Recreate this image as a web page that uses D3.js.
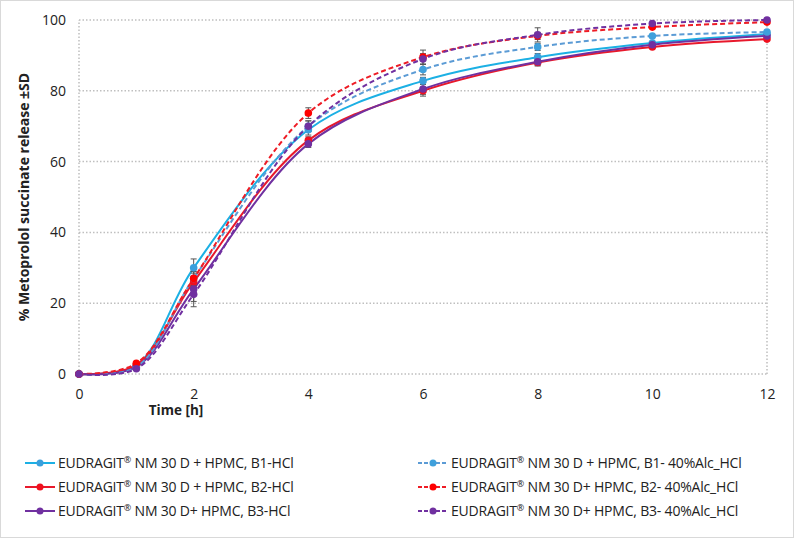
<!DOCTYPE html>
<html>
<head>
<meta charset="utf-8">
<script src="https://cdn.jsdelivr.net/npm/d3@7"></script>
<style>
  body { margin: 0; background: #fff; }
  svg text { font-family: "Open Sans", "Noto Sans", sans-serif; fill: #222; }
</style>
</head>
<body>
<svg id="chart" width="794" height="538"></svg>
<script>
// sampling times (h)
var times = [0, 1, 2, 4, 6, 8, 10, 12];

// mean release values (%) per formulation
var b1Hcl = [0, 2.5, 30, 69, 82.8, 89.5, 93.5, 96];
var b2Hcl = [0, 2.5, 26, 66, 80, 88, 92.4, 94.6];
var b3Hcl = [0, 2, 24, 65, 80.5, 88.2, 93, 95.5];
var b1Alc = [0, 2, 27, 70, 86, 92.4, 95.5, 96.6];
var b2Alc = [0, 3, 27, 73.7, 89.5, 95.5, 98, 99.4];
var b3Alc = [0, 1.5, 22.5, 70, 89, 95.8, 99, 100];

// standard deviations
var b1HclSd = [0, 0.5, 2.5, 1.5, 1, 1, 0.5, 0.5];
var b2HclSd = [0, 0.5, 1.5, 1, 1, 1, 0.5, 0.5];
var b3HclSd = [0, 0.5, 5, 1, 2, 1, 0.5, 0.5];
var b1AlcSd = [0, 0.5, 2, 1.5, 1.5, 1, 0.5, 0.5];
var b2AlcSd = [0, 0.5, 1.5, 1.5, 2, 1, 0.5, 0.5];
var b3AlcSd = [0, 0.5, 2, 1.5, 1.5, 2, 0.5, 0.5];

// legend labels, split around the ® sign
var seriesNames = [
  " NM 30 D + HPMC, B1-HCl",
  " NM 30 D + HPMC, B2-HCl",
  " NM 30 D+ HPMC, B3-HCl",
  " NM 30 D + HPMC, B1- 40%Alc_HCl",
  " NM 30 D+ HPMC, B2- 40%Alc_HCl",
  " NM 30 D+ HPMC, B3- 40%Alc_HCl"
];

var yTicks = [0, 20, 40, 60, 80, 100];
var xTicks = [0, 2, 4, 6, 8, 10, 12];

var series = [
  { name: seriesNames[0], values: b1Hcl, sd: b1HclSd, line: "#1cb0e4", dot: "#3a9fdc", dash: null },
  { name: seriesNames[1], values: b2Hcl, sd: b2HclSd, line: "#e8192c", dot: "#f0101e", dash: null },
  { name: seriesNames[2], values: b3Hcl, sd: b3HclSd, line: "#7030a0", dot: "#7030a0", dash: null },
  { name: seriesNames[3], values: b1Alc, sd: b1AlcSd, line: "#5b9bd5", dot: "#3fa0dc", dash: "5,3" },
  { name: seriesNames[4], values: b2Alc, sd: b2AlcSd, line: "#ee1c25", dot: "#ff0000", dash: "5,3" },
  { name: seriesNames[5], values: b3Alc, sd: b3AlcSd, line: "#7030a0", dot: "#7030a0", dash: "5,3" }
];

var svg = d3.select("svg#chart");

//Outer frame
svg.append("rect")
    .attr("x", 0.5).attr("y", 0.5)
    .attr("width", 793).attr("height", 537)
    .attr("fill", "#fff")
    .attr("stroke", "#d9d9d9");

var x = d3.scaleLinear().domain([0, 12]).range([79, 767]);
var y = d3.scaleLinear().domain([0, 100]).range([374, 20]);

//Horizontal gridlines
svg.append("g").selectAll("line")
  .data(yTicks)
  .enter().append("line")
    .attr("x1", x(0)).attr("x2", x(12))
    .attr("y1", function (d) { return y(d); })
    .attr("y2", function (d) { return y(d); })
    .attr("stroke", "#bfbfbf")
    .attr("stroke-width", 1.5)
    .attr("stroke-dasharray", "1.5,2");

//Vertical frame lines at 0 and 12
svg.append("g").selectAll("line")
  .data([0, 12])
  .enter().append("line")
    .attr("x1", function (d) { return x(d); })
    .attr("x2", function (d) { return x(d); })
    .attr("y1", y(0)).attr("y2", y(100))
    .attr("stroke", "#bfbfbf")
    .attr("stroke-width", 1.5)
    .attr("stroke-dasharray", "1.5,2");

//Axes (labels only, no domain)
var yAxis = svg.append("g")
    .attr("transform", "translate(" + x(0) + ",0)")
    .call(d3.axisLeft(y).tickValues(yTicks).tickSize(0).tickPadding(13));
var xAxis = svg.append("g")
    .attr("transform", "translate(0," + y(0) + ")")
    .call(d3.axisBottom(x).tickValues(xTicks).tickSize(0).tickPadding(15));
[yAxis, xAxis].forEach(function (a) {
  a.select(".domain").remove();
  a.selectAll("text").attr("font-size", 14).attr("fill", "#222")
    .style("font-family", "'Open Sans', sans-serif");
});

//Axis titles
svg.append("text")
    .attr("transform", "translate(29,197) rotate(-90)")
    .attr("text-anchor", "middle")
    .attr("font-size", 14)
    .attr("font-weight", "bold")
    .text("%  Metoprolol succinate release \u00B1SD");

svg.append("text")
    .attr("x", 176).attr("y", 415)
    .attr("text-anchor", "middle")
    .attr("font-size", 13.5)
    .attr("font-weight", "bold")
    .text("Time [h]");

//Smoothed lines
var line = d3.line()
    .x(function (d, i) { return x(times[i]); })
    .y(function (d) { return y(d); })
    .curve(d3.curveCatmullRom.alpha(0.5));

var plot = svg.append("g");

series.forEach(function (s) {
  plot.append("path")
      .datum(s.values)
      .attr("d", line)
      .attr("fill", "none")
      .attr("stroke", s.line)
      .attr("stroke-width", 2)
      .attr("stroke-dasharray", s.dash);
});

//Error bars
series.forEach(function (s) {
  var g = plot.append("g").attr("stroke", "#555").attr("stroke-width", 1);
  s.values.forEach(function (v, i) {
    if (s.sd[i] <= 0.6) return;
    var cx = x(times[i]);
    g.append("line").attr("x1", cx).attr("x2", cx)
      .attr("y1", y(v - s.sd[i])).attr("y2", y(v + s.sd[i]));
    [v - s.sd[i], v + s.sd[i]].forEach(function (e) {
      g.append("line").attr("x1", cx - 3).attr("x2", cx + 3)
        .attr("y1", y(e)).attr("y2", y(e));
    });
  });
});

//Markers
series.forEach(function (s) {
  plot.append("g").selectAll("circle")
    .data(s.values)
    .enter().append("circle")
      .attr("cx", function (d, i) { return x(times[i]); })
      .attr("cy", function (d) { return y(d); })
      .attr("r", 3.8)
      .attr("fill", s.dot);
});

//Legend in two columns
var legend = svg.append("g");
series.forEach(function (s, i) {
  var col = Math.floor(i / 3), row = i % 3;
  var lx = col === 0 ? 25 : 418;
  var ly = 463 + row * 24;
  var item = legend.append("g").attr("transform", "translate(" + lx + "," + ly + ")");
  item.append("line")
      .attr("x1", 0).attr("x2", 30)
      .attr("y1", 0).attr("y2", 0)
      .attr("stroke", s.line)
      .attr("stroke-width", 2)
      .attr("stroke-dasharray", s.dash ? "4,2" : null);
  item.append("circle")
      .attr("cx", 15).attr("cy", 0).attr("r", 3.5)
      .attr("fill", s.dot);
  var t = item.append("text")
      .attr("x", 33).attr("y", 5)
      .attr("font-size", 14)
      .attr("letter-spacing", -0.2);
  t.append("tspan").text("EUDRAGIT");
  t.append("tspan").attr("font-size", 9).attr("dy", -5).text("\u00AE");
  t.append("tspan").attr("dy", 5).text(s.name);
});
</script>
</body>
</html>
